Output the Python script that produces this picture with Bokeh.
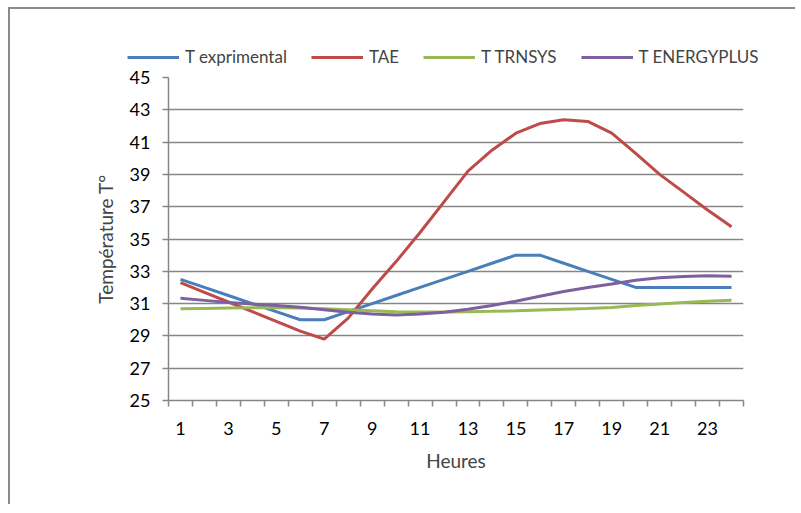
from bokeh.plotting import figure
from bokeh.layouts import column
from bokeh.models import FixedTicker, Legend, LegendItem, Range1d
from bokeh.embed import file_html
from bokeh.resources import INLINE

hours = list(range(1, 25))
t_exp = [32.5, 32.0, 31.5, 31.0, 30.5, 30.0, 30.0, 30.5, 31.0, 31.5, 32.0, 32.5,
         33.0, 33.5, 34.0, 34.0, 33.5, 33.0, 32.5, 32.0, 32.0, 32.0, 32.0, 32.0]
t_tae = [32.3, 31.7, 31.1, 30.5, 29.9, 29.3, 28.8, 30.1, 31.9, 33.6, 35.4, 37.3,
         39.2, 40.5, 41.55, 42.15, 42.38, 42.28, 41.55, 40.3, 39.0, 37.9, 36.8, 35.76]
t_trnsys = [30.68, 30.7, 30.72, 30.74, 30.75, 30.72, 30.68, 30.62, 30.56, 30.5, 30.48, 30.48,
            30.5, 30.52, 30.55, 30.6, 30.65, 30.7, 30.76, 30.88, 30.98, 31.07, 31.14, 31.2]
t_eplus = [31.33, 31.2, 31.07, 30.97, 30.88, 30.77, 30.62, 30.47, 30.35, 30.3, 30.35, 30.47,
           30.65, 30.88, 31.15, 31.45, 31.75, 32.0, 32.22, 32.45, 32.6, 32.68, 32.72, 32.7]
series_names = ["T exprimental", "TAE", "T TRNSYS", "T ENERGYPLUS"]
series_colors = ["#4A7EBB", "#BE4B48", "#98B954", "#7D60A0"]
y_ticks = list(range(25, 46, 2))
x_label_ticks = list(range(1, 24, 2))
series = [t_exp, t_tae, t_trnsys, t_eplus]

FONT = "Lato"
GRID = "#868686"
W = 785

# ---- legend strip (top) ----
top = figure(width=W, height=58, output_backend="svg", toolbar_location=None,
             x_axis_type=None, y_axis_type=None,
             x_range=Range1d(0.5, 24.5), y_range=Range1d(0, 1),
             min_border_left=0, min_border_right=0, min_border_top=0, min_border_bottom=0)
top.frame_align = False
top.outline_line_alpha = 0
top.background_fill_color = "white"
top.border_fill_color = "white"
leg_renderers = []
for ys, c in zip(series, series_colors):
    leg_renderers.append(top.line(hours, ys, line_color=c, line_width=3))
legend = Legend(items=[LegendItem(label=n, renderers=[r]) for n, r in zip(series_names, leg_renderers)],
                orientation="horizontal", location=(117, 0),
                glyph_width=52, glyph_height=18, label_height=18, label_standoff=6,
                spacing=24, padding=0, margin=0,
                border_line_alpha=0, background_fill_alpha=0,
                label_text_font=FONT, label_text_font_size="17px")
top.add_layout(legend, "center")

# ---- main chart ----
p = figure(width=W, height=437, output_backend="svg", toolbar_location=None,
           x_range=Range1d(0.5, 24.5), y_range=Range1d(25, 45),
           min_border_left=158, min_border_right=52, min_border_top=10, min_border_bottom=104)
p.frame_align = False
p.outline_line_alpha = 0
p.background_fill_color = "white"
p.border_fill_color = "white"

for ys, c in zip(series, series_colors):
    p.line(hours, ys, line_color=c, line_width=3)

xa = p.xaxis[0]
xa.ticker = FixedTicker(ticks=x_label_ticks, minor_ticks=[h - 0.5 for h in hours] + [24.5])
xa.major_tick_out = 0
xa.major_tick_in = 0
xa.minor_tick_out = 6
xa.minor_tick_in = 0
xa.minor_tick_line_color = GRID
xa.minor_tick_line_width = 1.5
xa.axis_line_color = GRID
xa.axis_line_width = 1.5
xa.major_label_text_font = FONT
xa.major_label_text_font_size = "18px"
xa.major_label_text_color = "black"
xa.major_label_standoff = 15
xa.axis_label = "Heures"
xa.axis_label_text_font = FONT
xa.axis_label_text_font_size = "19px"
xa.axis_label_text_font_style = "normal"
xa.axis_label_standoff = 11

ya = p.yaxis[0]
ya.ticker = FixedTicker(ticks=y_ticks, minor_ticks=[])
ya.major_tick_out = 6
ya.major_tick_in = 0
ya.major_tick_line_color = GRID
ya.major_tick_line_width = 1.5
ya.axis_line_color = GRID
ya.axis_line_width = 1.5
ya.major_label_text_font = FONT
ya.major_label_text_font_size = "18px"
ya.major_label_text_color = "black"
ya.major_label_standoff = 12
ya.axis_label = "Température T°"
ya.axis_label_text_font = FONT
ya.axis_label_text_font_size = "19px"
ya.axis_label_text_font_style = "normal"
ya.axis_label_standoff = 10

p.xgrid.visible = False
p.ygrid.ticker = FixedTicker(ticks=y_ticks)
p.ygrid.grid_line_color = GRID
p.ygrid.grid_line_width = 1.5

layout = column(top, p, spacing=0)
layout.styles = {"border-left": "2px solid #8a8a8a", "border-top": "2px solid #8a8a8a",
                 "margin-left": "8px", "margin-top": "7px"}

open("out.html", "w").write(file_html(layout, INLINE))
